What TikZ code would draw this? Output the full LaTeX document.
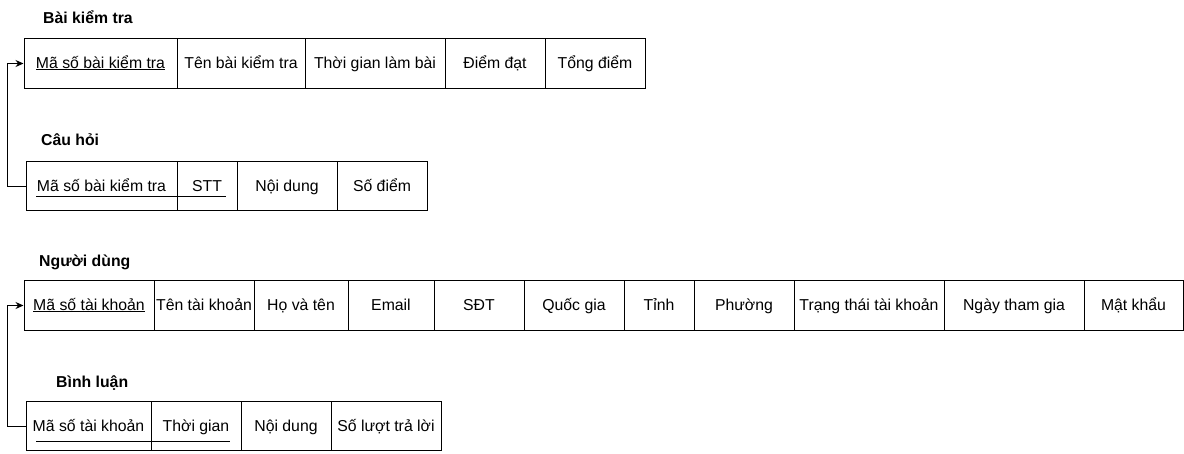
\documentclass[tikz,border=0pt]{standalone}
\usepackage{fontspec}
\setmainfont{Liberation Sans}
\usetikzlibrary{arrows.meta}
\begin{document}
\begin{tikzpicture}[x=1pt,y=-1pt,
  font=\fontsize{15.8}{19}\selectfont,
  cell/.style={draw=black, line width=1pt, minimum height=49.5pt, inner sep=0pt, text height=12.5pt, text depth=2pt},
  ttl/.style={anchor=base west, inner sep=0pt, font=\fontsize{15.8}{19}\selectfont\bfseries},
  link/.style={draw=black, line width=1pt, -{Stealth[length=8pt,width=7pt]}},
  keyline/.style={draw=black, line width=1pt}]
\fill[white] (0,0) rectangle (1184,453);
\useasboundingbox (0,0) rectangle (1184,453);

% Bai kiem tra
\node[ttl] (t1) at (43,23.5) {Bài kiểm tra};
\node[cell, minimum width=153pt] (a1) at (100.5,63.5) {Mã số bài kiểm tra};
\node[cell, minimum width=128pt] (a2) at (241,63.5) {Tên bài kiểm tra};
\node[cell, minimum width=140pt] (a3) at (375,63.5) {Thời gian làm bài};
\node[cell, minimum width=100pt] (a4) at (495,63.5) {Điểm đạt};
\node[cell, minimum width=100pt] (a5) at (595,63.5) {Tổng điểm};
\draw[keyline] (36,69.5) -- (165,69.5);

% Cau hoi
\node[ttl] (t2) at (41,145) {Câu hỏi};
\node[cell, minimum width=151pt] (b1) at (101.5,186) {Mã số bài kiểm tra};
\node[cell, minimum width=60pt] (b2) at (207,186) {STT};
\node[cell, minimum width=100pt] (b3) at (287,186) {Nội dung};
\node[cell, minimum width=90pt] (b4) at (382,186) {Số điểm};
\draw[keyline] (36,196.5) -- (226,196.5);

% Nguoi dung
\node[ttl] (t3) at (39,266.5) {Người dùng};
\node[cell, minimum width=130pt] (c1) at (89,305.5) {Mã số tài khoản};
\node[cell, minimum width=100pt] (c2) at (204,305.5) {Tên tài khoản};
\node[cell, minimum width=94pt] (c3) at (301,305.5) {Họ và tên};
\node[cell, minimum width=86pt] (c4) at (391,305.5) {Email};
\node[cell, minimum width=90pt] (c5) at (479,305.5) {SĐT};
\node[cell, minimum width=100pt] (c6) at (574,305.5) {Quốc gia};
\node[cell, minimum width=70pt] (c7) at (659,305.5) {Tỉnh};
\node[cell, minimum width=100pt] (c8) at (744,305.5) {Phường};
\node[cell, minimum width=150pt] (c9) at (869,305.5) {Trạng thái tài khoản};
\node[cell, minimum width=140pt] (c10) at (1014,305.5) {Ngày tham gia};
\node[cell, minimum width=99pt] (c11) at (1133.5,305.5) {Mật khẩu};
\draw[keyline] (33,311) -- (145,311);

% Binh luan
\node[ttl] (t4) at (56,387.5) {Bình luận};
\node[cell, minimum width=125pt] (d1) at (88.5,426) {Mã số tài khoản};
\node[cell, minimum width=90pt] (d2) at (196,426) {Thời gian};
\node[cell, minimum width=90pt] (d3) at (286,426) {Nội dung};
\node[cell, minimum width=110pt] (d4) at (386,426) {Số lượt trả lời};
\draw[keyline] (36,441) -- (230,441);

% foreign keys
\draw[link] (b1.west) -- ++(-18.5,0) |- (a1.west);
\draw[link] (d1.west) -- ++(-18.5,0) |- (c1.west);
\end{tikzpicture}
\end{document}
